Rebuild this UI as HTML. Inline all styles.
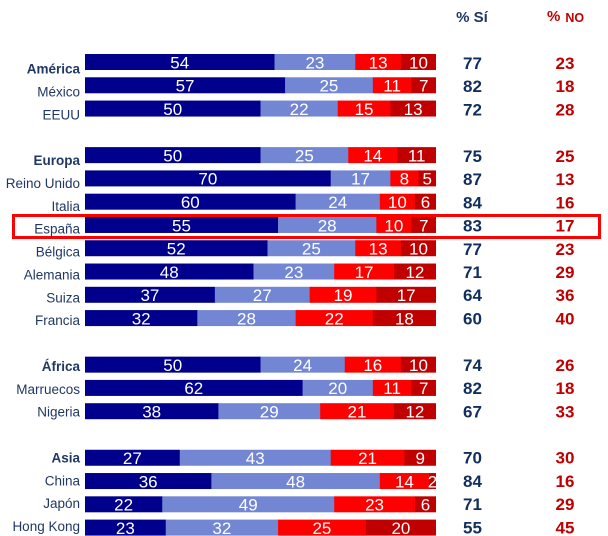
<!DOCTYPE html>
<html><head><meta charset="utf-8"><style>
html,body{margin:0;padding:0;background:#fff;}
svg{display:block;font-family:"Liberation Sans",Arial,sans-serif;}
.lb{font-size:13.5px;fill:#1F3864;text-anchor:end;}
.lbb{font-size:13.5px;fill:#1F3864;text-anchor:end;font-weight:bold;}
.bn{font-size:17px;fill:#fff;text-anchor:middle;}
.vs{font-size:17px;fill:#112F5E;text-anchor:middle;font-weight:bold;}
.vn{font-size:17px;fill:#C00000;text-anchor:middle;font-weight:bold;}
</style></head><body>
<svg id="s" width="608" height="536" viewBox="0 0 608 536" xmlns="http://www.w3.org/2000/svg">
<defs><clipPath id="cb"><rect x="85" y="0" width="351" height="536"/></clipPath></defs>
<text x="472" y="22" style="font-size:15px;font-weight:bold;fill:#1F3864;text-anchor:middle">% Sí</text>
<text x="547" y="21" style="font-size:15px;font-weight:bold;fill:#C00000">%<tspan style="font-size:12.5px" dx="5" dy="1">NO</tspan></text>
<rect x="13.5" y="215.5" width="586" height="22" fill="none" stroke="#FF0000" stroke-width="3"/>
<g id="rows"></g>
</svg>
<script>
var data=[
[0,"América",1,[54,23,13,10],77,23],
[1,"México",0,[57,25,11,7],82,18],
[2,"EEUU",0,[50,22,15,13],72,28],
[4,"Europa",1,[50,25,14,11],75,25],
[5,"Reino Unido",0,[70,17,8,5],87,13],
[6,"Italia",0,[60,24,10,6],84,16],
[7,"España",0,[55,28,10,7],83,17],
[8,"Bélgica",0,[52,25,13,10],77,23],
[9,"Alemania",0,[48,23,17,12],71,29],
[10,"Suiza",0,[37,27,19,17],64,36],
[11,"Francia",0,[32,28,22,18],60,40],
[13,"África",1,[50,24,16,10],74,26],
[14,"Marruecos",0,[62,20,11,7],82,18],
[15,"Nigeria",0,[38,29,21,12],67,33],
[17,"Asia",1,[27,43,21,9],70,30],
[18,"China",0,[36,48,14,2],84,16],
[19,"Japón",0,[22,49,23,6],71,29],
[20,"Hong Kong",0,[23,32,25,20],55,45]];
var cols=["#00008C","#7286D4","#FF0000","#C00000"];
var h="";
data.forEach(function(d){
 var r=d[0];
 var top=54+23.28*r;
 h+='<text class="'+(d[2]?'lbb':'lb')+'" x="80" y="'+(73.5+22.875*r).toFixed(1)+'">'+d[1]+'</text>';
 var x=85;
 var g='<g clip-path="url(#cb)">';
 d[3].forEach(function(v,i){
  var w=v*3.51;
  g+='<rect x="'+x.toFixed(2)+'" y="'+top.toFixed(2)+'" width="'+(w+0.3).toFixed(2)+'" height="16" fill="'+cols[i]+'"/>';
  x+=w;
 });
 x=85;
 d[3].forEach(function(v,i){
  var w=v*3.51;
  g+='<text class="bn" x="'+(x+w/2).toFixed(2)+'" y="'+(top+14.3).toFixed(1)+'">'+v+'</text>';
  x+=w;
 });
 g+='</g>';
 h+=g;
 var vy=(69+23.22*r).toFixed(1);
 h+='<text class="vs" x="472.5" y="'+vy+'">'+d[4]+'</text>';
 h+='<text class="vn" x="565" y="'+vy+'">'+d[5]+'</text>';
});
document.getElementById("rows").innerHTML=h;
</script>
</body></html>
